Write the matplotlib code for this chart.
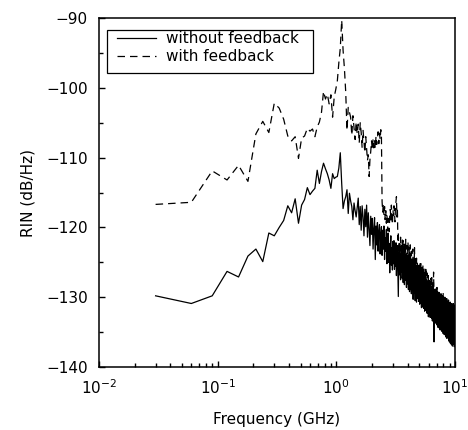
import numpy as np
import matplotlib
matplotlib.use("Agg")
import matplotlib.pyplot as plt
from matplotlib.ticker import LogLocator, NullFormatter
from matplotlib.patches import Rectangle

# measurement grid step (GHz); points are at k*step, k = 1..N
FREQ_STEP_GHZ = 0.03

rin_without = [
    -129.8, -130.9, -129.8, -126.3, -127.1, -124.1, -123.1, -124.9, -120.8, -121.2,
    -120.0, -119.0, -116.9, -117.9, -115.9, -119.4, -116.8, -116.0, -114.3, -115.3,
    -114.8, -114.4, -111.8, -113.7, -112.0, -110.8, -111.6, -112.3, -113.2, -114.4,
    -112.3, -113.0, -112.8, -112.7, -111.5, -109.3, -113.7, -117.3, -116.2, -115.6,
    -114.6, -118.0, -115.1, -116.2, -117.0, -118.9, -116.5, -117.6, -118.5, -117.2,
    -115.8, -119.6, -117.0, -120.4, -116.9, -118.5, -121.2, -117.4, -119.9, -116.8,
    -121.4, -117.9, -120.3, -122.6, -118.4, -121.0, -118.7, -123.1, -120.1, -118.6,
    -124.6, -119.8, -122.5, -119.3, -123.4, -120.6, -119.6, -123.8, -121.0, -119.9,
    -124.0, -120.4, -123.1, -119.8, -124.6, -121.5, -123.4, -120.3, -125.2, -121.9,
    -120.8, -125.0, -122.3, -126.5, -122.6, -121.2, -125.4, -122.9, -126.1, -122.0,
    -125.2, -121.9, -126.0, -123.1, -125.6, -122.2, -126.9, -123.8, -122.6, -126.4,
    -129.9, -123.5, -126.8, -122.9, -125.7, -127.5, -123.8, -126.4, -123.0, -127.3,
    -123.8, -127.9, -124.9, -123.3, -128.2, -125.4, -123.9, -127.6, -124.8, -128.6,
    -124.7, -128.1, -126.0, -123.9, -128.9, -125.7, -124.4, -129.2, -126.3, -124.6,
    -128.8, -125.2, -129.5, -126.4, -124.6, -129.0, -126.1, -130.3, -126.9, -125.0,
    -129.4, -125.8, -128.6, -130.5, -125.6, -128.9, -126.8, -130.7, -126.2, -129.3,
    -126.3, -130.2, -127.5, -125.7, -130.6, -128.4, -126.2, -131.0, -128.7, -126.4,
    -130.8, -127.1, -129.6, -131.5, -126.8, -130.2, -128.0, -131.4, -126.9, -130.6,
    -127.6, -131.6, -128.7, -127.0, -132.0, -129.5, -127.2, -131.8, -129.3, -127.4,
    -131.9, -128.6, -127.5, -132.3, -129.9, -127.8, -132.2, -129.0, -132.8, -128.1,
    -131.3, -128.2, -132.5, -129.5, -128.0, -132.9, -130.4, -128.6, -132.4, -130.8,
    -128.4, -133.0, -130.1, -128.6, -133.4, -130.9, -128.9, -132.8, -130.0, -133.6,
    -129.1, -136.4, -131.5, -129.0, -133.4, -130.4, -132.9, -128.9, -133.7, -131.2,
    -132.6, -129.4, -133.8, -131.3, -129.1, -134.0, -131.6, -129.6, -134.3, -131.0,
    -129.7, -134.1, -131.8, -129.3, -134.4, -131.9, -129.9, -134.2, -131.1, -134.7,
    -130.0, -133.9, -132.0, -129.5, -134.6, -131.5, -132.7, -129.8, -134.9, -132.1,
    -130.1, -134.5, -132.4, -129.9, -135.2, -131.6, -133.0, -130.0, -135.3, -132.6,
    -130.3, -134.8, -132.7, -130.0, -135.4, -131.9, -133.5, -130.5, -135.7, -132.8,
    -130.6, -135.1, -132.4, -130.2, -135.9, -132.9, -133.8, -130.7, -135.5, -133.1,
    -130.8, -135.8, -133.0, -130.4, -136.2, -133.2, -134.1, -131.0, -136.4, -132.6,
    -131.0, -135.6, -133.3, -130.7, -136.6, -133.6, -131.3, -136.0, -133.1, -130.9,
    -136.8, -133.5, -131.2, -136.1, -133.8, -131.0, -137.0, -133.3, -131.5, -136.2,
    -133.7, -130.9, -136.7, -133.1, -131.7, -136.5, -134.0, -131.1, -137.1, -133.6,
    -131.8, -136.4, -136.8,
]

rin_with = [
    -116.7, -116.4, -111.9, -113.2, -111.1, -113.4, -106.6, -104.8, -106.4, -102.2,
    -102.9, -104.5, -106.9, -107.6, -107.0, -110.1, -107.2, -106.9, -105.8, -106.2,
    -105.9, -107.0, -105.6, -104.9, -103.5, -100.5, -101.6, -100.9, -102.3, -101.0,
    -104.2, -101.3, -100.2, -99.0, -96.4, -94.3, -90.3, -94.6, -97.2, -100.6,
    -106.1, -102.8, -103.5, -104.2, -106.8, -104.0, -105.7, -107.4, -104.9, -106.6,
    -105.2, -107.9, -105.0, -106.4, -108.6, -106.1, -107.8, -109.3, -107.0, -108.8,
    -110.4, -109.6, -112.7, -110.3, -109.1, -107.6, -108.9, -107.3, -108.6, -107.5,
    -108.7, -106.9, -108.1, -107.2, -106.3, -108.0, -106.5, -107.4, -106.0, -107.1,
    -116.3, -117.8, -116.6, -118.3, -117.0, -118.9, -117.6, -119.4, -118.1, -120.5,
    -118.7, -119.9, -120.6, -118.2, -117.4, -119.0, -116.8, -118.1, -119.6, -117.5,
    -118.3, -116.9, -117.8, -119.2, -117.1, -116.4, -115.6, -118.5, -117.2, -121.8,
    -120.8, -123.9, -121.9, -124.6, -122.3, -121.4, -124.9, -122.6, -124.2, -121.8,
    -123.6, -121.9, -125.3, -123.0, -122.4, -125.6, -123.4, -121.7, -125.9, -123.5,
    -122.6, -125.7, -123.7, -122.1, -126.2, -124.3, -122.9, -126.4, -124.6, -122.5,
    -124.9, -126.5, -123.4, -125.8, -127.0, -124.7, -123.1, -126.6, -124.8, -127.2,
    -124.9, -122.9, -126.8, -125.7, -124.2, -127.4, -125.6, -124.4, -127.8, -125.9,
    -124.8, -127.3, -127.9, -125.3, -127.6, -125.5, -128.2, -126.1, -125.0, -128.1,
    -126.3, -125.2, -128.5, -126.4, -127.7, -125.6, -128.8, -126.7, -125.4, -128.6,
    -126.8, -128.3, -125.9, -128.9, -127.2, -126.1, -129.2, -127.6, -126.0, -128.8,
    -127.6, -126.4, -129.3, -127.5, -126.6, -129.5, -127.9, -129.8, -126.9, -128.9,
    -127.7, -129.6, -127.2, -129.2, -130.0, -127.8, -128.7, -129.8, -127.3, -129.5,
    -128.4, -126.8, -130.1, -128.6, -130.4, -127.9, -129.6, -127.7, -130.2, -126.4,
    -128.9, -130.5, -128.5, -129.8, -130.8, -128.9, -129.9, -131.0, -128.7, -130.2,
    -130.6, -129.0, -131.1, -129.8, -128.6, -131.3, -129.9, -130.8, -129.2, -131.5,
    -130.1, -131.2, -129.3, -131.6, -130.5, -129.4, -131.8, -130.8, -129.7, -132.0,
    -130.2, -131.3, -129.6, -131.9, -130.9, -129.7, -132.2, -130.5, -131.5, -129.6,
    -131.5, -130.7, -132.4, -131.0, -129.5, -131.9, -130.6, -132.6, -131.1, -131.6,
    -130.4, -132.5, -131.2, -130.7, -132.8, -131.4, -130.0, -132.1, -133.0, -130.9,
    -131.7, -132.7, -130.7, -132.2, -133.2, -131.3, -130.5, -132.9, -131.8, -133.3,
    -131.4, -130.8, -133.1, -132.0, -133.4, -131.5, -132.4, -130.9, -132.9, -133.6,
    -131.8, -132.6, -131.0, -133.7, -132.3, -131.6, -133.5, -132.5, -131.2, -133.9,
    -132.1, -133.0, -131.4, -134.0, -132.7, -131.6, -133.8, -132.4, -131.9, -134.1,
    -132.4, -131.5, -134.3, -133.0, -131.9, -133.5, -132.6, -134.5, -131.7, -133.2,
    -132.8, -134.6, -133.5,
]

series_labels = ["without feedback", "with feedback"]
x_label = "Frequency (GHz)"
y_label = "RIN (dB/Hz)"
y_ticks = [-140, -130, -120, -110, -100, -90]
y_ticklabels = ["\u2212140", "\u2212130", "\u2212120", "\u2212110", "\u2212100", "\u221290"]

plt.rcParams["font.family"] = ["DejaVu Sans"]
plt.rcParams["font.size"] = 11

fig = plt.figure(figsize=(4.68, 4.30), dpi=100)
ax = fig.add_axes([0.2115, 0.1465, 0.7607, 0.8115])

f_wo = FREQ_STEP_GHZ * np.arange(1, len(rin_without) + 1)
f_w = FREQ_STEP_GHZ * np.arange(1, len(rin_with) + 1)

ax.plot(f_wo, rin_without, color="black", lw=0.9, label=series_labels[0])
ax.plot(f_w, rin_with, color="black", lw=0.9, ls=(0, (6, 4)), label=series_labels[1])

ax.set_xscale("log")
ax.set_xlim(0.01, 10)
ax.set_ylim(-140, -90)
ax.xaxis.set_major_locator(LogLocator(base=10, numticks=10))
ax.xaxis.set_minor_locator(LogLocator(base=10, subs=np.arange(2, 10), numticks=40))
ax.xaxis.set_minor_formatter(NullFormatter())
ax.set_yticks(y_ticks)
ax.set_yticks(np.arange(-135, -90, 10), minor=True)
ax.set_yticklabels(y_ticklabels)

ax.tick_params(which="both", direction="in", top=False, right=False, width=1.0)
ax.tick_params(which="major", length=4.5, pad=8)
ax.tick_params(which="minor", length=3)
for s in ax.spines.values():
    s.set_linewidth(1.1)

ax.set_xlabel(x_label, labelpad=11)
ax.set_ylabel(y_label, labelpad=8)

# legend frame drawn as a plain rectangle, entries placed inside it
frame = Rectangle((0.0225, 0.842), 0.579, 0.1235, transform=ax.transAxes,
                  facecolor="white", edgecolor="black", lw=0.9, zorder=4)
ax.add_patch(frame)
leg = ax.legend(loc="upper left", bbox_to_anchor=(0.052, 0.962), borderaxespad=0,
                frameon=False, borderpad=0, handlelength=2.55, handletextpad=0.65,
                labelspacing=0.2)
leg.set_zorder(5)

fig.savefig("out.png", dpi=100)
